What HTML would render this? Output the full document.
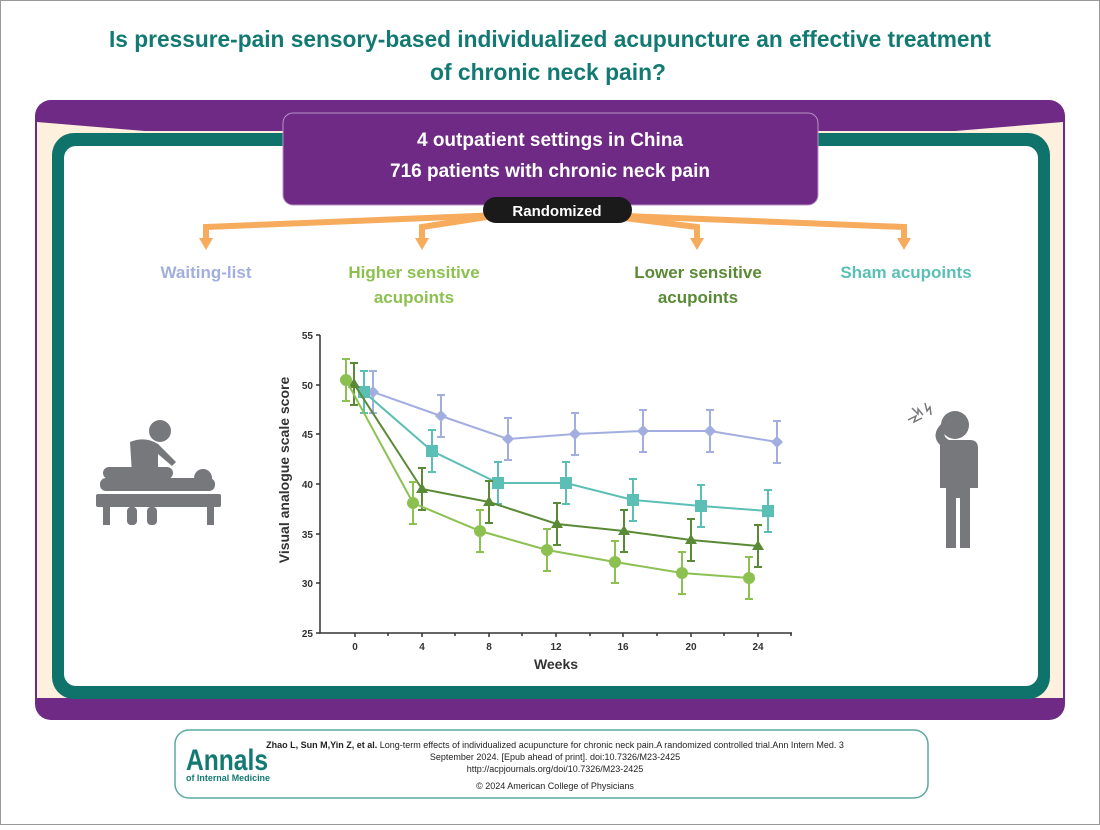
<!DOCTYPE html>
<html><head><meta charset="utf-8"><style>
body{margin:0;background:#fff;width:1100px;height:825px;overflow:hidden;font-family:"Liberation Sans",Arial,sans-serif}
</style></head><body>
<svg width="1100" height="825" viewBox="0 0 1100 825" xmlns="http://www.w3.org/2000/svg" font-family="Liberation Sans, Arial, sans-serif">
<rect x="0.5" y="0.5" width="1099" height="824" fill="#fff" stroke="#999"/>
<text x="550" y="47" text-anchor="middle" font-size="23" font-weight="bold" fill="#127a72" textLength="882" lengthAdjust="spacingAndGlyphs">Is pressure-pain sensory-based individualized acupuncture an effective treatment</text>
<text x="548" y="80" text-anchor="middle" font-size="23" font-weight="bold" fill="#127a72" textLength="236" lengthAdjust="spacingAndGlyphs">of chronic neck pain?</text>
<rect x="35" y="100" width="1030" height="620" rx="16" fill="#6e2a84"/>
<path d="M37 131 L145 131 L37 122 Z" fill="#fdf0dc"/>
<path d="M1063 131 L955 131 L1063 122 Z" fill="#fdf0dc"/>
<rect x="37" y="131" width="1026" height="567" fill="#fdf0dc"/>
<rect x="52" y="133" width="998" height="566" rx="22" fill="#0f736c"/>
<rect x="64" y="146" width="974" height="540" rx="12" fill="#fff"/>
<rect x="283" y="113" width="535" height="92" rx="10" fill="#6e2a84" stroke="#b993c6" stroke-width="1"/>
<text x="550" y="146" text-anchor="middle" font-size="19" font-weight="bold" fill="#fff">4 outpatient settings in China</text>
<text x="550" y="177" text-anchor="middle" font-size="19" font-weight="bold" fill="#fff">716 patients with chronic neck pain</text>
<g stroke="#f7ab5c" stroke-width="6" fill="none">
<path d="M500 215 L206 227 V240"/>
<path d="M500 215 L422 227 V240"/>
<path d="M600 215 L697 227 V240"/>
<path d="M600 215 L904 227 V240"/>
</g>
<g fill="#f7ab5c">
<path d="M199 238 h14 l-7 12z"/><path d="M415 238 h14 l-7 12z"/><path d="M690 238 h14 l-7 12z"/><path d="M897 238 h14 l-7 12z"/>
</g>
<rect x="483" y="197" width="149" height="26" rx="13" fill="#1a1a1a"/>
<text x="557" y="216" text-anchor="middle" font-size="15" font-weight="bold" fill="#fff">Randomized</text>
<g font-size="17" font-weight="bold" text-anchor="middle">
<text x="206" y="278" fill="#a3aee0">Waiting-list</text>
<text x="414" y="278" fill="#8cc151">Higher sensitive</text>
<text x="414" y="303" fill="#8cc151">acupoints</text>
<text x="698" y="278" fill="#5a8a35">Lower sensitive</text>
<text x="698" y="303" fill="#5a8a35">acupoints</text>
<text x="906" y="278" fill="#5bbfb5">Sham acupoints</text>
</g>
<g stroke="#333" stroke-width="1.5" fill="none">
<path d="M320 335 V633 H792"/>
<path d="M316 335 h4 M316 385 h4 M316 434 h4 M316 484 h4 M316 534 h4 M316 583 h4 M316 633 h4"/>
<path d="M355 633 v4 M388 633 v3 M422 633 v4 M455 633 v3 M489 633 v4 M522 633 v3 M556 633 v4 M590 633 v3 M623 633 v4 M657 633 v3 M691 633 v4 M724 633 v3 M758 633 v4 M791 633 v3"/>
</g>
<g font-size="10" font-weight="bold" fill="#333" text-anchor="end">
<text x="313" y="339">55</text><text x="313" y="389">50</text><text x="313" y="438">45</text><text x="313" y="488">40</text><text x="313" y="538">35</text><text x="313" y="587">30</text><text x="313" y="637">25</text>
</g>
<g font-size="10" font-weight="bold" fill="#333" text-anchor="middle">
<text x="355" y="650">0</text><text x="422" y="650">4</text><text x="489" y="650">8</text><text x="556" y="650">12</text><text x="623" y="650">16</text><text x="691" y="650">20</text><text x="758" y="650">24</text>
</g>
<text x="556" y="669" text-anchor="middle" font-size="14" font-weight="bold" fill="#333">Weeks</text>
<text transform="translate(289,470) rotate(-90)" text-anchor="middle" font-size="14" font-weight="bold" fill="#333">Visual analogue scale score</text>
<g stroke="#a3aee0" stroke-width="2" fill="none">
<path d="M373 392 L441 416 L508 439 L575 434 L643 431 L710 431 L777 442"/>
<path d="M369 371h8M373 371V413M369 413h8 M437 395h8M441 395V437M437 437h8 M504 418h8M508 418V460M504 460h8 M571 413h8M575 413V455M571 455h8 M639 410h8M643 410V452M639 452h8 M706 410h8M710 410V452M706 452h8 M773 421h8M777 421V463M773 463h8"/>
</g>
<g fill="#a3aee0"><path d="M373 386l6 6-6 6-6-6z"/><path d="M441 410l6 6-6 6-6-6z"/><path d="M508 433l6 6-6 6-6-6z"/><path d="M575 428l6 6-6 6-6-6z"/><path d="M643 425l6 6-6 6-6-6z"/><path d="M710 425l6 6-6 6-6-6z"/><path d="M777 436l6 6-6 6-6-6z"/></g>
<g stroke="#5bbfb5" stroke-width="2" fill="none">
<path d="M364 392 L432 451 L498 483 L566 483 L633 500 L701 506 L768 511"/>
<path d="M360 371h8M364 371V413M360 413h8 M428 430h8M432 430V472M428 472h8 M494 462h8M498 462V504M494 504h8 M562 462h8M566 462V504M562 504h8 M629 479h8M633 479V521M629 521h8 M697 485h8M701 485V527M697 527h8 M764 490h8M768 490V532M764 532h8"/>
</g>
<g fill="#5bbfb5"><rect x="358" y="386" width="12" height="12"/><rect x="426" y="445" width="12" height="12"/><rect x="492" y="477" width="12" height="12"/><rect x="560" y="477" width="12" height="12"/><rect x="627" y="494" width="12" height="12"/><rect x="695" y="500" width="12" height="12"/><rect x="762" y="505" width="12" height="12"/></g>
<g stroke="#5a8a35" stroke-width="2" fill="none">
<path d="M354 384 L422 489 L489 502 L557 524 L624 531 L691 540 L758 546"/>
<path d="M350 363h8M354 363V405M350 405h8 M418 468h8M422 468V510M418 510h8 M485 481h8M489 481V523M485 523h8 M553 503h8M557 503V545M553 545h8 M620 510h8M624 510V552M620 552h8 M687 519h8M691 519V561M687 561h8 M754 525h8M758 525V567M754 567h8"/>
</g>
<g fill="#5a8a35"><path d="M354 378l6 10h-12z"/><path d="M422 483l6 10h-12z"/><path d="M489 496l6 10h-12z"/><path d="M557 518l6 10h-12z"/><path d="M624 525l6 10h-12z"/><path d="M691 534l6 10h-12z"/><path d="M758 540l6 10h-12z"/></g>
<g stroke="#8cc151" stroke-width="2" fill="none">
<path d="M346 380 L413 503 L480 531 L547 550 L615 562 L682 573 L749 578"/>
<path d="M342 359h8M346 359V401M342 401h8 M409 482h8M413 482V524M409 524h8 M476 510h8M480 510V552M476 552h8 M543 529h8M547 529V571M543 571h8 M611 541h8M615 541V583M611 583h8 M678 552h8M682 552V594M678 594h8 M745 557h8M749 557V599M745 599h8"/>
</g>
<g fill="#8cc151"><circle cx="346" cy="380" r="6"/><circle cx="413" cy="503" r="6"/><circle cx="480" cy="531" r="6"/><circle cx="547" cy="550" r="6"/><circle cx="615" cy="562" r="6"/><circle cx="682" cy="573" r="6"/><circle cx="749" cy="578" r="6"/></g>
<g fill="#77787b">
<circle cx="160" cy="431" r="11"/>
<path d="M130 442 q15-6 28 2 l18 18 l-4 4 l-14-12 v20 h-26 z"/>
<rect x="103" y="467" width="70" height="12" rx="6"/>
<circle cx="203" cy="478" r="9"/>
<rect x="96" y="494" width="125" height="13" rx="2"/>
<rect x="103" y="507" width="7" height="18"/><rect x="207" y="507" width="7" height="18"/>
<rect x="127" y="507" width="10" height="18" rx="4"/><rect x="147" y="507" width="10" height="18" rx="4"/>
<rect x="100" y="478" width="115" height="13" rx="6"/>
</g>
<g fill="#77787b">
<circle cx="955" cy="425" r="14"/>
<path d="M940 440 h30 q8 0 8 8 v40 h-8 v60 h-10 v-50 h-4 v50 h-10 v-60 h-6 z"/>
<path d="M940 445 q-10-10 2-22 l5 5 q-6 8 2 12z"/>
</g>
<g stroke="#77787b" stroke-width="1.5" fill="none"><path d="M908 420 l8-4 -2 6 8-4"/><path d="M912 408 l6 6 0-5 5 6"/><path d="M925 403 l2 8 3-4 1 8"/></g>
<rect x="175" y="730" width="753" height="68" rx="14" fill="#fff" stroke="#5aa9a2" stroke-width="1.5"/>
<text x="186" y="770" font-size="30" font-weight="bold" fill="#127a72" textLength="82" lengthAdjust="spacingAndGlyphs">Annals</text>
<text x="186" y="781" font-size="9" font-weight="bold" fill="#127a72" textLength="84" lengthAdjust="spacingAndGlyphs">of Internal Medicine</text>
<g font-size="9" fill="#222" text-anchor="middle">
<text x="555" y="748"><tspan font-weight="bold">Zhao L, Sun M,Yin Z, et al.</tspan> Long-term effects of individualized acupuncture for chronic neck pain.A randomized controlled trial.Ann Intern Med. 3</text>
<text x="555" y="760">September 2024. [Epub ahead of print]. doi:10.7326/M23-2425</text>
<text x="555" y="772">http://acpjournals.org/doi/10.7326/M23-2425</text>
<text x="555" y="789">© 2024 American College of Physicians</text>
</g>
</svg>
</body></html>
